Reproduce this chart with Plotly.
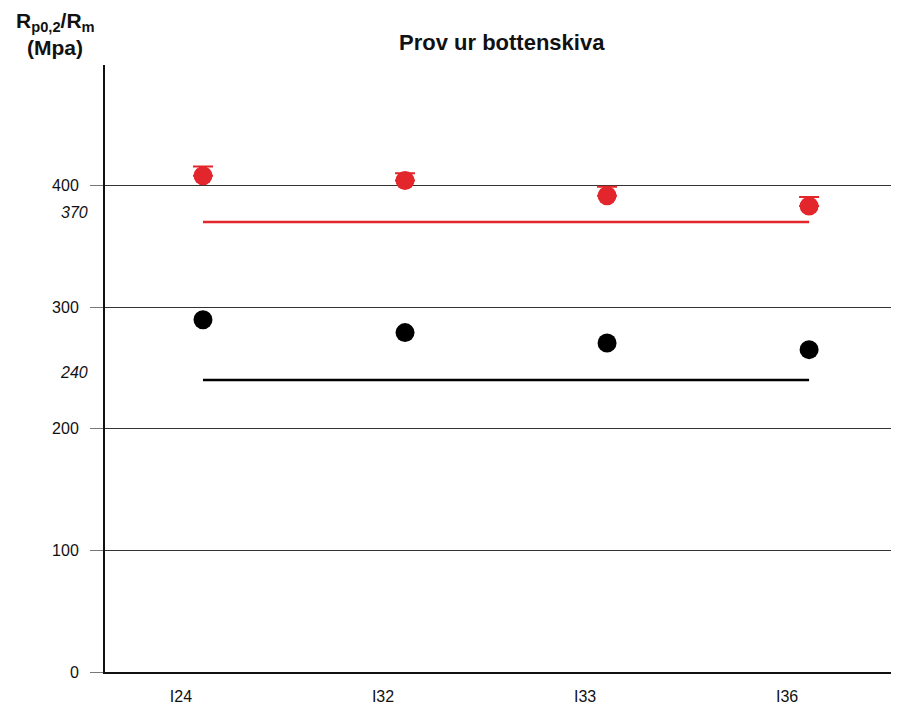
import plotly.graph_objects as go

categories = ["I24", "I32", "I33", "I36"]
rm_values = [408, 404, 391.5, 383]
rm_err_plus = [7.5, 6, 7.5, 7.5]
rp_values = [289.5, 279, 270.5, 265]
rm_limit = 370
rp_limit = 240
y_ticks = [0, 100, 200, 300, 400]

RED = "#e3262b"
BLACK = "#000000"
FONT = "Liberation Sans, Arial, sans-serif"

xi = list(range(len(categories)))

fig = go.Figure()
fig.add_trace(go.Scatter(
    x=[xi[0], xi[-1]], y=[rm_limit, rm_limit], mode="lines",
    line=dict(color=RED, width=2.5), showlegend=False, hoverinfo="skip"))
fig.add_trace(go.Scatter(
    x=[xi[0], xi[-1]], y=[rp_limit, rp_limit], mode="lines",
    line=dict(color=BLACK, width=2.5), showlegend=False, hoverinfo="skip"))
fig.add_trace(go.Scatter(
    x=xi, y=rm_values, mode="markers",
    marker=dict(color=RED, size=19),
    error_y=dict(type="data", array=rm_err_plus, arrayminus=[0]*4,
                 color=RED, thickness=2, width=10),
    showlegend=False))
fig.add_trace(go.Scatter(
    x=xi, y=rp_values, mode="markers",
    marker=dict(color=BLACK, size=19),
    showlegend=False))

annotations = [
    dict(text="<b>Prov ur bottenskiva</b>", xref="paper", yref="paper",
         x=0.5, y=1, yshift=23, xanchor="center", yanchor="middle",
         showarrow=False, font=dict(size=22, color="#111", family=FONT)),
    dict(text="<b>R<sub>p0,2</sub>/R<sub>m</sub></b>", xref="paper", yref="paper",
         x=-0.063, y=1, yshift=43, xanchor="center", yanchor="middle",
         showarrow=False, font=dict(size=21, color="#111", family=FONT)),
    dict(text="<b>(Mpa)</b>", xref="paper", yref="paper",
         x=-0.063, y=1, yshift=18, xanchor="center", yanchor="middle",
         showarrow=False, font=dict(size=21, color="#111", family=FONT)),
    dict(text="<i>370</i>", xref="paper", yref="y", x=0, xshift=-15, y=rm_limit,
         yshift=9, xanchor="right", yanchor="middle", showarrow=False,
         font=dict(size=16, color="#111", family=FONT)),
    dict(text="<i>240</i>", xref="paper", yref="y", x=0, xshift=-15, y=rp_limit,
         yshift=8, xanchor="right", yanchor="middle", showarrow=False,
         font=dict(size=16, color="#111", family=FONT)),
]

fig.update_layout(
    width=891, height=703,
    margin=dict(l=97, r=1, t=57, b=39),
    paper_bgcolor="white", plot_bgcolor="white",
    font=dict(family=FONT, size=16, color="#111"),
    annotations=annotations,
    xaxis=dict(
        tickmode="array", tickvals=xi, ticktext=categories,
        range=[-0.485, 3.44], showgrid=False, zeroline=False,
        showline=True, linecolor="#111", linewidth=2, ticks="",
        ticklabelstandoff=9, ticklabelshift=-22, tickfont=dict(size=16)),
    yaxis=dict(
        range=[0, 499], tickmode="array", tickvals=y_ticks,
        showgrid=True, gridcolor="#333", gridwidth=1, zeroline=False,
        showline=True, linecolor="#111", linewidth=2,
        ticks="outside", ticklen=13, tickcolor="#777", tickwidth=1,
        ticklabelstandoff=8, tickfont=dict(size=16)),
)

fig.write_html("out.html")
